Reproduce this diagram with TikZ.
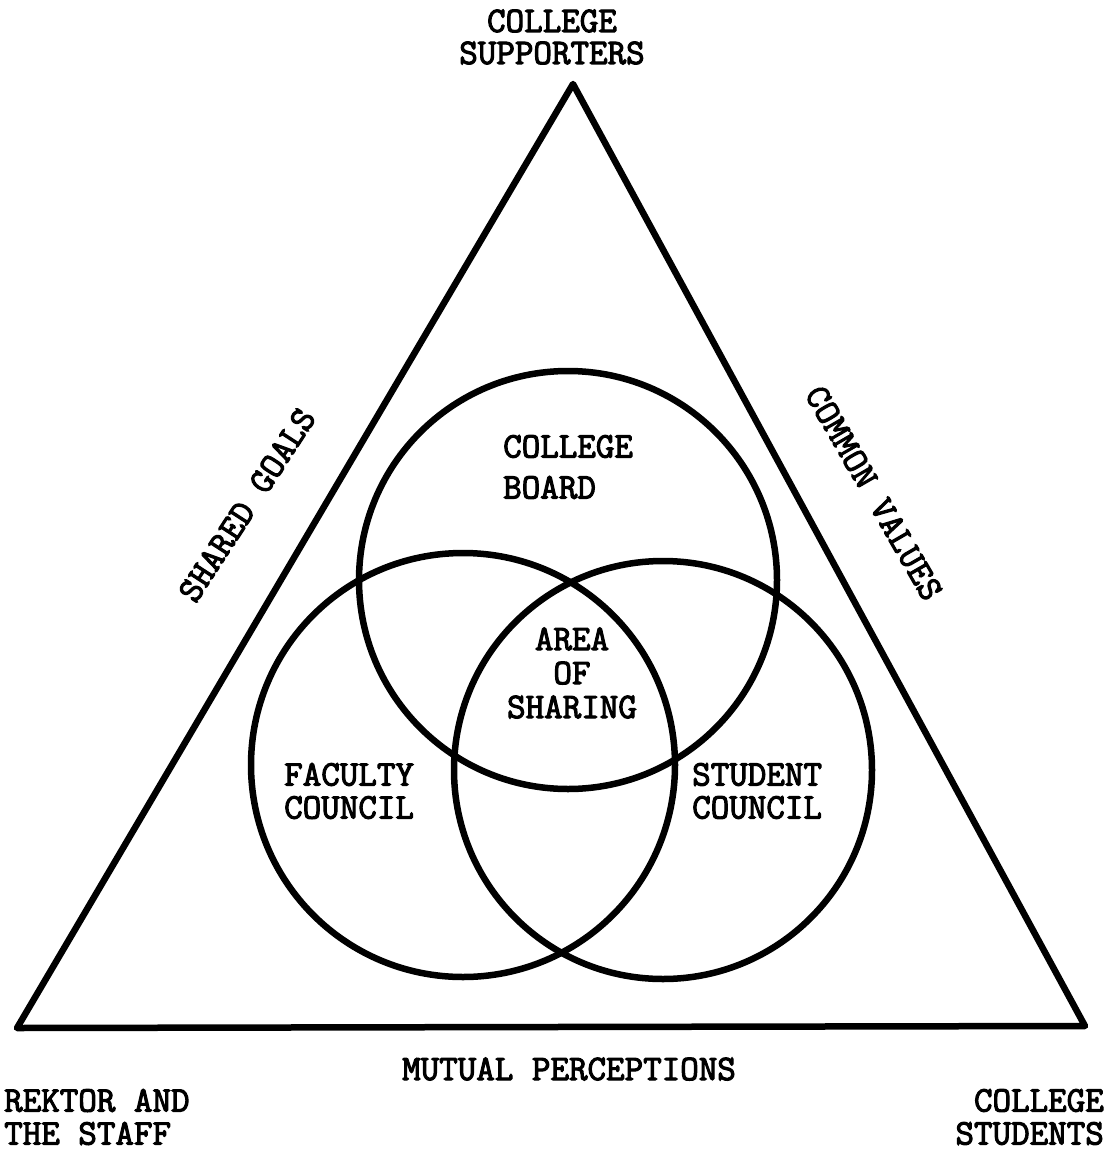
\documentclass[tikz,border=0pt]{standalone}
\usepackage{fontspec}
\newfontfamily\tw{Latin Modern Mono}[FakeBold=3]
\begin{document}
\begin{tikzpicture}[x=1pt,y=-1pt,
  edge/.style={line width=6.5pt, line join=round},
  ring/.style={circle, draw, line width=6.5pt, inner sep=0pt},
  lbl/.style={font=\tw\fontsize{36}{33}\selectfont, inner sep=0pt}]
\useasboundingbox (0,0) rectangle (1109,1153);
% triangle corners
\coordinate (apex) at (573,84);
\coordinate (bl) at (17,1028);
\coordinate (br) at (1085,1026);
\draw[edge] (apex) -- (br) -- (bl) -- cycle;
% circles
\node[ring, minimum size=418pt] (board) at (568,580) {};
\node[ring, minimum size=424pt] (faculty) at (463,765) {};
\node[ring, minimum size=418pt] (student) at (663,770) {};
% labels
\node[lbl, align=center, font=\tw\fontsize{36}{32}\selectfont] (supp) at (552,37) {COLLEGE\\SUPPORTERS};
\node[lbl, align=left, anchor=west, font=\tw\fontsize{36}{41}\selectfont] (boardlbl) at (503,467) {COLLEGE\\BOARD};
\node[lbl, align=center, font=\tw\fontsize{36}{34}\selectfont] (area) at (572,673) {AREA\\OF\\SHARING};
\node[lbl, align=left, anchor=west] (faclbl) at (284,791) {FACULTY\\COUNCIL};
\node[lbl, align=left, anchor=west] (stulbl) at (692,791) {STUDENT\\COUNCIL};
\node[lbl] (mutual) at (569,1069) {MUTUAL PERCEPTIONS};
\node[lbl, align=left, anchor=west] (rektor) at (4,1117) {REKTOR AND\\THE STAFF};
\node[lbl, align=right, anchor=east] (students) at (1104,1117) {COLLEGE\\STUDENTS};
\node[lbl, rotate=57] (goals) at (247,505) {SHARED GOALS};
\node[lbl, rotate=-60] (values) at (874,493) {COMMON VALUES};
\end{tikzpicture}
\end{document}
